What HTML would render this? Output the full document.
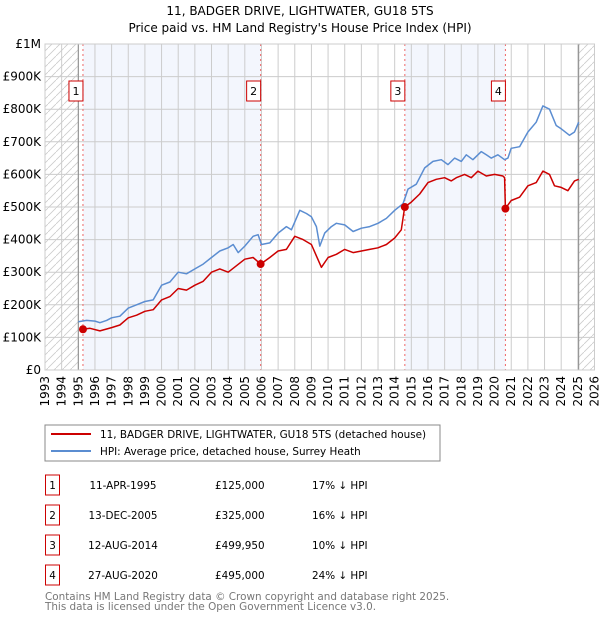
<!DOCTYPE html>
<html><head><meta charset="utf-8"><style>
body{margin:0;background:#fff;font-family:"DejaVu Sans","Liberation Sans",sans-serif;}
svg text{font-family:"DejaVu Sans","Liberation Sans",sans-serif;}
</style></head><body>
<svg id="chart" width="600" height="620" xmlns="http://www.w3.org/2000/svg">
<defs><pattern id="hatch" patternUnits="userSpaceOnUse" width="8" height="8"><path d="M0,8 L8,0" stroke="#ccc" stroke-width="0.8"/></pattern></defs>
<text x="300" y="15" text-anchor="middle" font-size="12">11, BADGER DRIVE, LIGHTWATER, GU18 5TS</text>
<text x="300" y="32" text-anchor="middle" font-size="12">Price paid vs. HM Land Registry's House Price Index (HPI)</text>
<g id="plot"></g>
<g>
<rect x="45" y="425" width="395" height="36" fill="#fff" stroke="#888"/>
<line x1="51" y1="434" x2="91" y2="434" stroke="#cc0000" stroke-width="2"/>
<text x="100" y="438" font-size="10.4">11, BADGER DRIVE, LIGHTWATER, GU18 5TS (detached house)</text>
<line x1="51" y1="451" x2="91" y2="451" stroke="#5b8dd1" stroke-width="2"/>
<text x="100" y="455" font-size="10.4">HPI: Average price, detached house, Surrey Heath</text>
</g>
<g id="table"></g>
<text x="45" y="600" font-size="10.4" fill="#777">Contains HM Land Registry data © Crown copyright and database right 2025.</text>
<text x="45" y="610" font-size="10.4" fill="#777">This data is licensed under the Open Government Licence v3.0.</text>
</svg>
<script>
const hpiYears=[1995.0,1995.5,1996.0,1996.3,1996.7,1997.0,1997.5,1998.0,1998.5,1999.0,1999.5,2000.0,2000.5,2001.0,2001.5,2002.0,2002.5,2003.0,2003.5,2004.0,2004.3,2004.6,2005.0,2005.5,2005.8,2006.0,2006.5,2007.0,2007.5,2007.8,2008.3,2008.7,2009.0,2009.3,2009.5,2009.8,2010.2,2010.5,2011.0,2011.5,2012.0,2012.5,2013.0,2013.5,2014.0,2014.5,2014.8,2015.3,2015.8,2016.3,2016.8,2017.2,2017.6,2018.0,2018.3,2018.7,2019.2,2019.5,2019.8,2020.2,2020.6,2020.8,2021.0,2021.5,2022.0,2022.5,2022.9,2023.3,2023.7,2024.0,2024.5,2024.8,2025.05];
const hpiValues=[148,152,150,145,152,160,165,190,200,210,215,260,270,300,295,310,325,345,365,375,385,360,380,410,415,385,390,420,440,430,490,480,470,440,380,420,440,450,445,425,435,440,450,465,490,510,555,570,620,640,645,630,650,640,660,645,670,660,650,660,645,650,680,685,730,760,810,800,750,740,720,730,760];
const ppYears=[1995.28,1995.7,1996.3,1997.0,1997.5,1998.0,1998.5,1999.0,1999.5,2000.0,2000.5,2001.0,2001.5,2002.0,2002.5,2003.0,2003.5,2004.0,2004.5,2005.0,2005.5,2005.95,2006.5,2007.0,2007.5,2008.0,2008.5,2009.0,2009.3,2009.6,2010.0,2010.5,2011.0,2011.5,2012.0,2012.5,2013.0,2013.5,2014.0,2014.4,2014.6,2015.0,2015.5,2016.0,2016.5,2017.0,2017.4,2017.7,2018.2,2018.6,2019.0,2019.5,2020.0,2020.5,2020.6,2020.65,2021.0,2021.5,2022.0,2022.5,2022.9,2023.3,2023.6,2024.0,2024.4,2024.8,2025.05];
const ppValues=[125,128,120,130,138,160,168,180,185,215,225,250,245,260,272,300,310,300,320,340,345,325,345,365,370,410,400,385,350,315,345,355,370,360,365,370,375,385,405,430,500,515,540,575,585,590,580,590,600,590,610,595,600,595,590,495,520,530,565,575,610,600,565,560,550,580,585];
const saleLabels=["1","2","3","4"];
const saleYears=[1995.28,2005.95,2014.61,2020.65];
const salePrices=[125000,325000,499950,495000];
const saleDates=["11-APR-1995","13-DEC-2005","12-AUG-2014","27-AUG-2020"];
const salePriceText=["£125,000","£325,000","£499,950","£495,000"];
const saleHpiText=["17% ↓ HPI","16% ↓ HPI","10% ↓ HPI","24% ↓ HPI"];
const yTicks=[0,100,200,300,400,500,600,700,800,900,1000];
const yTickLabels=["£0","£100K","£200K","£300K","£400K","£500K","£600K","£700K","£800K","£900K","£1M"];
const xTicks=[];for(let y=1993;y<=2026;y++)xTicks.push(y);

const X0=45,X1=594.5,Y0=370,Y1=44;
const xs=y=>X0+(y-1993)/(2026-1993)*(X1-X0);
const ys=v=>Y0-v/1000*(Y0-Y1);
const NS="http://www.w3.org/2000/svg";
const plot=document.getElementById('plot');
function mk(tag,attrs,parent){const e=document.createElementNS(NS,tag);for(const k in attrs)e.setAttribute(k,attrs[k]);(parent||plot).appendChild(e);return e;}

let r;
r=mk('rect',{x:xs(saleYears[0]),y:Y1,width:xs(saleYears[1])-xs(saleYears[0]),height:Y0-Y1,fill:'#f3f6fd'});


r=mk('rect',{x:xs(saleYears[2]),y:Y1,width:xs(saleYears[3])-xs(saleYears[2]),height:Y0-Y1,fill:'#f3f6fd'});


r=mk('rect',{x:X0,y:Y1,width:xs(1995)-X0,height:Y0-Y1,fill:'url(#hatch)'});


r=mk('rect',{x:xs(2025.05),y:Y1,width:X1-xs(2025.05),height:Y0-Y1,fill:'url(#hatch)'});



yTicks.forEach((v,i)=>{
 const l=mk('line',{x1:X0,x2:X1,y1:ys(v),y2:ys(v),stroke:'#ccc','stroke-width':1});
 
 
 const t=mk('text',{x:X0-4,y:ys(v)+4,'text-anchor':'end','font-size':12});
 t.textContent=yTickLabels[i];
 
 
});
xTicks.forEach(y=>{
 const l=mk('line',{x1:xs(y),x2:xs(y),y1:Y1,y2:Y0,stroke:'#ccc','stroke-width':1});
 
 
 const t=mk('text',{x:0,y:0,'text-anchor':'end','font-size':12,transform:`translate(${xs(y)+4},${Y0+6}) rotate(-90)`});
 t.textContent=y;
 
 
});
[1995,2025.05].forEach(y=>{const l=mk('line',{x1:xs(y),x2:xs(y),y1:Y1,y2:Y0,stroke:'#888','stroke-width':1});
 
 });

saleYears.forEach((y,i)=>{
 const l=mk('line',{x1:xs(y),x2:xs(y),y1:Y1,y2:Y0,stroke:'#e66','stroke-width':1,'stroke-dasharray':'2,3'});
 
 
});

function path(xa,va){return xa.map((y,i)=>(i?'L':'M')+xs(y).toFixed(1)+','+ys(va[i]).toFixed(1)).join(' ');}
const hp=mk('path',{d:path(hpiYears,hpiValues),fill:'none',stroke:'#5b8dd1','stroke-width':1.5,'stroke-linejoin':'round'});


const pp=mk('path',{d:path(ppYears,ppValues),fill:'none',stroke:'#cc0000','stroke-width':1.5,'stroke-linejoin':'round'});



const border=mk('rect',{x:X0,y:Y1,width:X1-X0,height:Y0-Y1,fill:'none',stroke:'#ccc'});



saleYears.forEach((y,i)=>{
 const c=mk('circle',{cx:xs(y),cy:ys(salePrices[i]/1000),r:4,fill:'#cc0000'});
 
 
 const g=mk('g',{});
 
 
 mk('rect',{x:xs(y)-14,y:81,width:14,height:20,fill:'#fff',stroke:'#cc0000'},g);
 const t=mk('text',{x:xs(y)-7,y:95,'text-anchor':'middle','font-size':11},g);
 t.textContent=saleLabels[i];
});

const tbl=document.getElementById('table');
saleLabels.forEach((lab,i)=>{
 const cy=483+i*30;
 const g=mk('g',{},tbl);
 
 
 mk('rect',{x:45.5,y:cy-8,width:14,height:20,fill:'#fff',stroke:'#cc0000'},g);
 let t=mk('text',{x:52.5,y:cy+6,'text-anchor':'middle','font-size':10.4},g);t.textContent=lab;
 t=mk('text',{x:123,y:cy+6,'text-anchor':'middle','font-size':10.4},g);t.textContent=saleDates[i];
 t=mk('text',{x:215,y:cy+6,'font-size':10.4},g);t.textContent=salePriceText[i];
 t=mk('text',{x:312,y:cy+6,'font-size':10.4},g);t.textContent=saleHpiText[i];
});
</script>
</body></html>
